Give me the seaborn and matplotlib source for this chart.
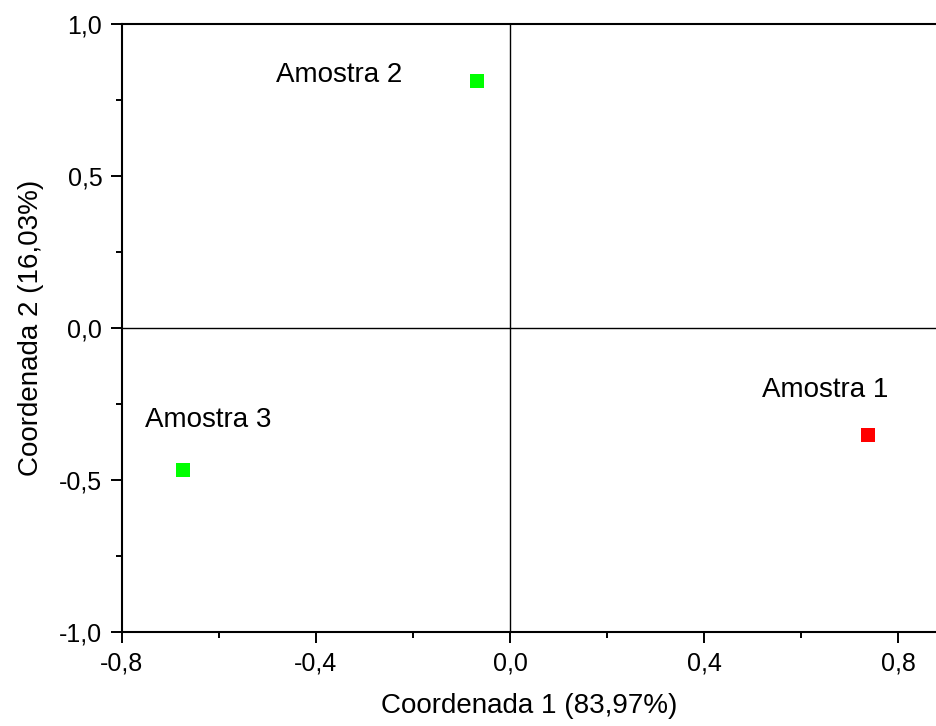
import numpy as np
import pandas as pd
import seaborn as sns
import matplotlib.pyplot as plt
from matplotlib.ticker import MultipleLocator, FuncFormatter

# Sample scores on the first two coordinates
samples = ["Amostra 1", "Amostra 2", "Amostra 3"]
coord1 = [0.738, -0.068, -0.674]
coord2 = [-0.352, 0.812, -0.467]
groups = ["a", "b", "b"]

df = pd.DataFrame({"sample": samples, "c1": coord1, "c2": coord2, "group": groups})

sns.set_style("ticks")
plt.rcParams['font.family'] = ['Liberation Sans', 'DejaVu Sans']
plt.rcParams['text.color'] = 'black'
plt.rcParams['axes.labelcolor'] = 'black'
plt.rcParams['xtick.color'] = 'black'
plt.rcParams['ytick.color'] = 'black'

fig = plt.figure(figsize=(9.37, 7.26), dpi=100)
ax = fig.add_axes([0.130, 0.1295, 0.870, 0.8375])

# zero lines
ax.axhline(0, color="black", lw=1.0, zorder=1)
ax.axvline(0, color="black", lw=1.0, zorder=1)

sns.scatterplot(data=df, x="c1", y="c2", hue="group",
                palette={"a": "#ff0000", "b": "#00ff00"},
                marker="s", s=95, edgecolor="none", legend=False, ax=ax, zorder=3)

# label offsets in pixels (text left edge / vertical centre relative to point)
offsets = [(-106, 45), (-201, 6), (-38, 50)]
for name, x, y, off in zip(samples, coord1, coord2, offsets):
    ax.annotate(name, (x, y), xytext=off, textcoords="offset pixels",
                ha="left", va="center", fontsize=20, color="black")

ax.set_xlim(-0.8, 0.88)
ax.set_ylim(-1.0, 1.0)
ax.xaxis.set_major_locator(MultipleLocator(0.4))
ax.xaxis.set_minor_locator(MultipleLocator(0.2))
ax.yaxis.set_major_locator(MultipleLocator(0.5))
ax.yaxis.set_minor_locator(MultipleLocator(0.25))
comma = FuncFormatter(lambda v, p: f"{v:.1f}".replace(".", ",").replace("-0,0", "0,0"))
ax.xaxis.set_major_formatter(comma)
ax.yaxis.set_major_formatter(comma)

ax.tick_params(which="major", direction="out", length=8, width=1.4, labelsize=18, pad=6,
               colors="black")
ax.tick_params(which="minor", direction="out", length=4.5, width=1.4, colors="black")

for side in ["left", "bottom", "top"]:
    ax.spines[side].set_linewidth(1.5)
    ax.spines[side].set_color("black")
ax.spines["right"].set_visible(False)

ax.set_xlabel("Coordenada 1 (83,97%)", fontsize=20, labelpad=13)
ax.set_ylabel("Coordenada 2 (16,03%)", fontsize=20, labelpad=11)

plt.savefig("out.png", dpi=100)
